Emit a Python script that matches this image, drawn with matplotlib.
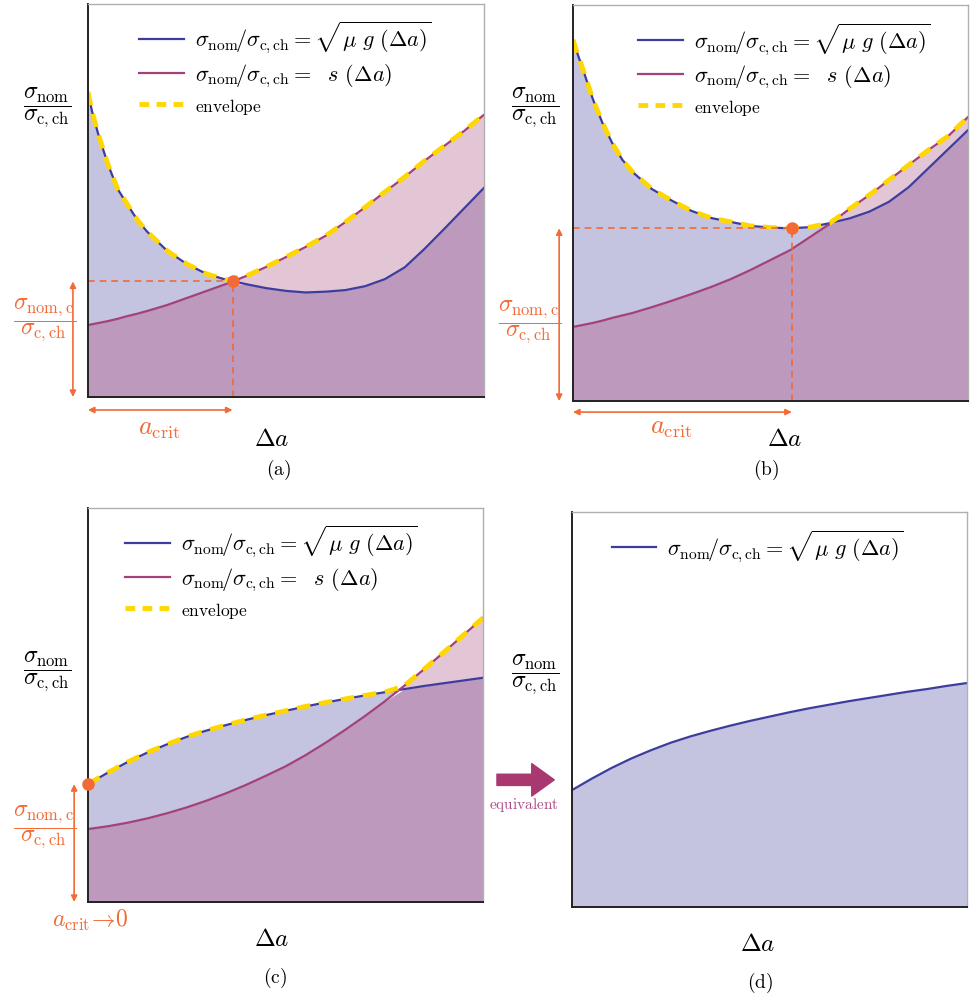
import matplotlib.pyplot as plt
import numpy as np
from matplotlib.lines import Line2D

plt.rcParams['mathtext.fontset'] = 'cm'
plt.rcParams['font.family'] = ['DejaVu Serif']

# normalised abscissa (0 = left edge, 1 = right edge of each panel)
x_ab = [0, 0.01, 0.025, 0.05, 0.075, 0.1, 0.125, 0.15, 0.2, 0.25, 0.3, 0.35, 0.4, 0.45,
        0.5, 0.55, 0.6, 0.65, 0.7, 0.75, 0.8, 0.85, 0.9, 0.95, 1.0]
x_cd = [0, 0.05, 0.1, 0.15, 0.2, 0.25, 0.3, 0.35, 0.4, 0.45, 0.5, 0.55, 0.6, 0.65, 0.7,
        0.75, 0.8, 0.85, 0.9, 0.95, 1.0]

# panel (a)
blue_a = [0.776, 0.728, 0.672, 0.593, 0.529, 0.489, 0.450, 0.420, 0.372, 0.338, 0.313,
          0.298, 0.287, 0.277, 0.270, 0.266, 0.268, 0.272, 0.282, 0.300, 0.330, 0.377,
          0.428, 0.480, 0.532]
red_a = [0.183, 0.185, 0.188, 0.193, 0.199, 0.206, 0.212, 0.219, 0.234, 0.252, 0.270,
         0.288, 0.308, 0.331, 0.356, 0.382, 0.410, 0.445, 0.483, 0.522, 0.560, 0.601,
         0.639, 0.677, 0.718]
crit_a = (0.365, 0.294)

# panel (b)
blue_b = [0.912, 0.881, 0.838, 0.763, 0.701, 0.650, 0.609, 0.579, 0.535, 0.506, 0.480,
          0.462, 0.452, 0.442, 0.438, 0.436, 0.439, 0.449, 0.461, 0.478, 0.503, 0.540,
          0.588, 0.636, 0.684]
red_b = [0.187, 0.189, 0.192, 0.197, 0.203, 0.210, 0.216, 0.222, 0.237, 0.253, 0.270,
         0.288, 0.308, 0.331, 0.356, 0.381, 0.414, 0.447, 0.485, 0.520, 0.558, 0.596,
         0.634, 0.669, 0.717]
crit_b = (0.554, 0.436)

# panel (c)
blue_c = [0.299, 0.328, 0.355, 0.379, 0.400, 0.419, 0.435, 0.449, 0.462, 0.474, 0.485,
          0.496, 0.506, 0.515, 0.524, 0.532, 0.540, 0.548, 0.555, 0.562, 0.569]
red_c = [0.185, 0.192, 0.201, 0.212, 0.225, 0.240, 0.257, 0.276, 0.297, 0.320, 0.344,
         0.372, 0.403, 0.436, 0.471, 0.508, 0.548, 0.590, 0.633, 0.677, 0.721]
crit_c = (0.0, 0.299)

# panel (d) -- g curve only
blue_d = [0.296, 0.325, 0.352, 0.376, 0.397, 0.416, 0.432, 0.446, 0.459, 0.471, 0.482,
          0.493, 0.503, 0.512, 0.521, 0.529, 0.537, 0.545, 0.552, 0.560, 0.567]

# colours
C_BLUE = '#3d3d9e'
C_RED = '#a3417a'
C_LAV = '#c4c4e0'
C_PINK = '#e3c6d6'
C_PURP = '#bc99bd'
C_ENV = '#ffd700'
C_OR = '#f26a35'
C_MAG = '#a8386f'

LBL_G = r'$\sigma_{\rm nom}\!/\sigma_{\rm c,ch} = \sqrt{\mu\ g\ (\Delta a)}$'
LBL_S = r'$\sigma_{\rm nom}\!/\sigma_{\rm c,ch} =\ \ s\ (\Delta a)$'
LBL_Y = r'$\dfrac{\sigma_{\rm nom}}{\sigma_{\rm c,ch}}$'
LBL_YC = r'$\dfrac{\sigma_{\rm nom,c}}{\sigma_{\rm c,ch}}$'

fig = plt.figure(figsize=(9.71, 9.94), dpi=100)
ax_a = fig.add_axes([0.0906, 0.6006, 0.4078, 0.3954])
ax_b = fig.add_axes([0.5901, 0.5966, 0.4068, 0.3984])
ax_c = fig.add_axes([0.0906, 0.0926, 0.4068, 0.3964])
ax_d = fig.add_axes([0.5891, 0.0875, 0.4068, 0.3974])


def style(ax):
    ax.set_xlim(0, 1)
    ax.set_ylim(0, 1)
    ax.set_xticks([])
    ax.set_yticks([])
    for s in ['left', 'bottom']:
        ax.spines[s].set_color('#222222')
        ax.spines[s].set_linewidth(1.4)
    for s in ['top', 'right']:
        ax.spines[s].set_color('#b0b0b0')
        ax.spines[s].set_linewidth(1.0)


def two_curves(ax, x, g, s):
    x = np.asarray(x)
    g = np.asarray(g)
    s = np.asarray(s)
    low = np.minimum(g, s)
    ax.fill_between(x, 0, low, color=C_PURP, lw=0)
    ax.fill_between(x, s, g, where=g >= s, interpolate=True, color=C_LAV, lw=0)
    ax.fill_between(x, g, s, where=s >= g, interpolate=True, color=C_PINK, lw=0)
    ax.plot(x, g, color=C_BLUE, lw=1.6)
    ax.plot(x, s, color=C_RED, lw=1.6)
    ax.plot(x, np.maximum(g, s), color=C_ENV, lw=3.5, dashes=(2.8, 1.8))


def legend(ax, loc, three=True):
    h = [Line2D([], [], color=C_BLUE, lw=1.6)]
    lab = [LBL_G]
    if three:
        h += [Line2D([], [], color=C_RED, lw=1.6),
              Line2D([], [], color=C_ENV, lw=3.5, dashes=(2.0, 1.5))]
        lab += [LBL_S, r'$\mathrm{envelope}$']
    leg = ax.legend(h, lab, loc='upper left', bbox_to_anchor=loc, frameon=False,
                    fontsize=16, handlelength=2.0, handletextpad=0.5,
                    labelspacing=0.3, borderaxespad=0, borderpad=0)
    if three:
        leg.get_texts()[2].set_fontsize(12.5)


def crit_marks(ax, crit, xarr, yarr, dashed=True):
    cx, cy = crit
    if dashed:
        ax.plot([0, cx], [cy, cy], color=C_OR, lw=1.2, dashes=(4, 3))
        ax.plot([cx, cx], [0, cy], color=C_OR, lw=1.2, dashes=(4, 3))
    ax.plot([cx], [cy], 'o', color=C_OR, ms=8, clip_on=False, zorder=5)
    ax.annotate('', xy=(xarr, 0), xytext=(xarr, cy), annotation_clip=False,
                arrowprops=dict(arrowstyle='<|-|>', color=C_OR, lw=1.2,
                                mutation_scale=9, shrinkA=0, shrinkB=0))
    if yarr is not None:
        ax.annotate('', xy=(0, yarr), xytext=(cx, yarr), annotation_clip=False,
                    arrowprops=dict(arrowstyle='<|-|>', color=C_OR, lw=1.2,
                                    mutation_scale=9, shrinkA=0, shrinkB=0))


for ax in [ax_a, ax_b, ax_c, ax_d]:
    style(ax)

# (a)
two_curves(ax_a, x_ab, blue_a, red_a)
legend(ax_a, (0.13, 0.96))
crit_marks(ax_a, crit_a, -0.038, -0.033)
ax_a.text(0.18, -0.079, r'$a_{\rm crit}$', color=C_OR, fontsize=19, ha='center', va='center')
ax_a.text(-0.11, 0.196, LBL_YC, color=C_OR, fontsize=17, ha='center', va='center')
ax_a.text(-0.104, 0.735, LBL_Y, color='black', fontsize=17, ha='center', va='center')
ax_a.text(0.465, -0.109, r'$\Delta a$', fontsize=18, ha='center', va='center')
ax_a.text(0.48, -0.186, r'$\mathrm{(a)}$', fontsize=14, ha='center', va='center')

# (b)
two_curves(ax_b, x_ab, blue_b, red_b)
legend(ax_b, (0.165, 0.96))
crit_marks(ax_b, crit_b, -0.035, -0.028)
ax_b.text(0.25, -0.068, r'$a_{\rm crit}$', color=C_OR, fontsize=19, ha='center', va='center')
ax_b.text(-0.111, 0.2, LBL_YC, color=C_OR, fontsize=17, ha='center', va='center')
ax_b.text(-0.096, 0.74, LBL_Y, color='black', fontsize=17, ha='center', va='center')
ax_b.text(0.537, -0.098, r'$\Delta a$', fontsize=18, ha='center', va='center')
ax_b.text(0.489, -0.174, r'$\mathrm{(b)}$', fontsize=14, ha='center', va='center')

# (c)
two_curves(ax_c, x_cd, blue_c, red_c)
legend(ax_c, (0.094, 0.96))
crit_marks(ax_c, crit_c, -0.035, None, dashed=False)
ax_c.text(0.005, -0.046, r'$a_{\rm crit}\!\rightarrow\!0$', color=C_OR, fontsize=17,
          ha='center', va='center')
ax_c.text(-0.109, 0.19, LBL_YC, color=C_OR, fontsize=17, ha='center', va='center')
ax_c.text(-0.104, 0.584, LBL_Y, color='black', fontsize=17, ha='center', va='center')
ax_c.text(0.466, -0.096, r'$\Delta a$', fontsize=18, ha='center', va='center')
ax_c.text(0.473, -0.193, r'$\mathrm{(c)}$', fontsize=14, ha='center', va='center')

# (d)
ax_d.fill_between(x_cd, 0, blue_d, color=C_LAV, lw=0)
ax_d.plot(x_cd, blue_d, color=C_BLUE, lw=1.6)
legend(ax_d, (0.10, 0.96), three=False)
ax_d.text(-0.094, 0.587, LBL_Y, color='black', fontsize=17, ha='center', va='center')
ax_d.text(0.47, -0.096, r'$\Delta a$', fontsize=18, ha='center', va='center')
ax_d.text(0.476, -0.192, r'$\mathrm{(d)}$', fontsize=14, ha='center', va='center')
ax_d.annotate('', xy=(-0.045, 0.322), xytext=(-0.19, 0.322), annotation_clip=False,
              arrowprops=dict(arrowstyle='simple,head_length=0.9,head_width=1.3,tail_width=0.45',
                              color=C_MAG, mutation_scale=18, shrinkA=0, shrinkB=0))
ax_d.text(-0.122, 0.258, r'$\mathrm{equivalent}$', color='#b04a85', fontsize=11,
          ha='center', va='center')

fig.savefig('out.png', dpi=100)
